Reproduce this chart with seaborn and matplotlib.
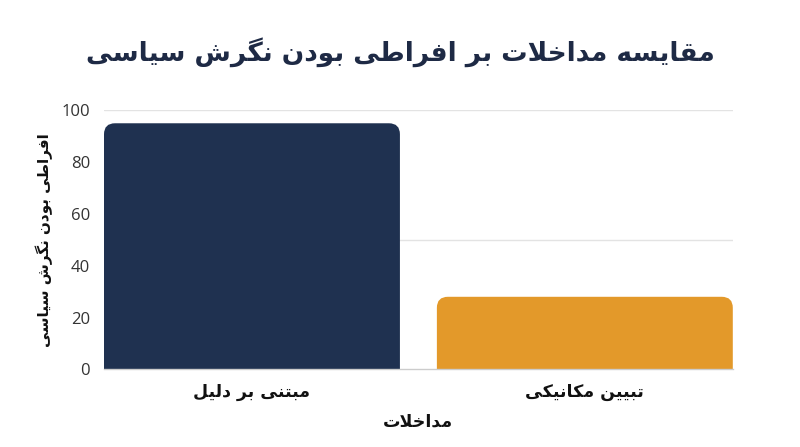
import matplotlib
matplotlib.use("Agg")
import matplotlib.pyplot as plt
import seaborn as sns
import pandas as pd
from matplotlib.path import Path
from matplotlib.patches import PathPatch

# ---- data ----
categories = ["مبتنی بر دلیل", "تبیین مکانیکی"]
values = [95, 28]
bar_colors = ["#1f3150", "#e3992a"]
title_text = "مقایسه مداخلات بر افراطی بودن نگرش سیاسی"
x_label = "مداخلات"
y_label = "افراطی بودن نگرش سیاسی"
y_ticks = [0, 20, 40, 60, 80, 100]
grid_lines = [50, 100]

# ---- minimal Persian shaping (presentation forms + RTL) ----
FORMS = {
    '\u0627': ('\uFE8D', '\uFE8E', None, None),
    '\u0628': ('\uFE8F', '\uFE90', '\uFE91', '\uFE92'),
    '\u062A': ('\uFE95', '\uFE96', '\uFE97', '\uFE98'),
    '\u062E': ('\uFEA5', '\uFEA6', '\uFEA7', '\uFEA8'),
    '\u062F': ('\uFEA9', '\uFEAA', None, None),
    '\u0631': ('\uFEAD', '\uFEAE', None, None),
    '\u0633': ('\uFEB1', '\uFEB2', '\uFEB3', '\uFEB4'),
    '\u0634': ('\uFEB5', '\uFEB6', '\uFEB7', '\uFEB8'),
    '\u0637': ('\uFEC1', '\uFEC2', '\uFEC3', '\uFEC4'),
    '\u0641': ('\uFED1', '\uFED2', '\uFED3', '\uFED4'),
    '\u0642': ('\uFED5', '\uFED6', '\uFED7', '\uFED8'),
    '\u0644': ('\uFEDD', '\uFEDE', '\uFEDF', '\uFEE0'),
    '\u0645': ('\uFEE1', '\uFEE2', '\uFEE3', '\uFEE4'),
    '\u0646': ('\uFEE5', '\uFEE6', '\uFEE7', '\uFEE8'),
    '\u0647': ('\uFEE9', '\uFEEA', '\uFEEB', '\uFEEC'),
    '\u0648': ('\uFEED', '\uFEEE', None, None),
    '\u06CC': ('\uFBFC', '\uFBFD', '\uFBFE', '\uFBFF'),
    '\u06A9': ('\uFB8E', '\uFB8F', '\uFB90', '\uFB91'),
    '\u06AF': ('\uFB92', '\uFB93', '\uFB94', '\uFB95'),
}


def fa(text):
    chars = list(text)
    n = len(chars)

    def dual(c):
        f = FORMS.get(c)
        return f is not None and f[2] is not None

    out = []
    i = 0
    while i < n:
        c = chars[i]
        prev = chars[i - 1] if i > 0 else None
        nxt = chars[i + 1] if i + 1 < n else None
        if c not in FORMS:
            out.append(c)
            i += 1
            continue
        jp = prev is not None and dual(prev)
        if c == '\u0644' and nxt == '\u0627':
            out.append('\uFEFC' if jp else '\uFEFB')
            i += 2
            continue
        jn = dual(c) and nxt is not None and nxt in FORMS
        iso, fin, ini, med = FORMS[c]
        if jp and jn:
            g = med
        elif jp:
            g = fin
        elif jn:
            g = ini
        else:
            g = iso
        out.append(g)
        i += 1
    return ''.join(reversed(out))


sns.set_theme(style="white")
plt.rcParams['font.family'] = ['DejaVu Sans']

FA_FONT = ['DejaVu Sans']
NUM_FONT = ['Open Sans', 'DejaVu Sans']

fig = plt.figure(figsize=(8, 4.47), dpi=100)
ax = fig.add_axes([0.13, 0.1738, 0.786, 0.5794])

df = pd.DataFrame({"cat": categories, "val": values})
sns.barplot(data=df, x="cat", y="val", hue="cat", palette=bar_colors,
            width=0.889, legend=False, ax=ax, saturation=1)

ax.set_xlim(-0.4445, 1.4445)
ax.set_ylim(0, 100)

for g in grid_lines:
    ax.axhline(g, color="#e3e3e3", lw=1, zorder=0)

ax.set_yticks(y_ticks)
ax.set_yticklabels([str(t) for t in y_ticks], family=NUM_FONT, fontsize=12, color="#333333")
ax.set_xticks(range(len(categories)))
ax.set_xticklabels([fa(c) for c in categories], family=FA_FONT, fontsize=12.5,
                   fontweight="bold", color="#111111")
ax.tick_params(axis='both', length=0)
ax.tick_params(axis='y', pad=10)
ax.tick_params(axis='x', pad=10)

ax.set_xlabel(fa(x_label), family=FA_FONT, fontsize=12.5, fontweight="bold", color="#111111", labelpad=8)
ax.set_ylabel(fa(y_label), family=FA_FONT, fontsize=11, fontweight="bold", color="#111111", labelpad=6)

for s in ["top", "right", "left"]:
    ax.spines[s].set_visible(False)
ax.spines["bottom"].set_color("#cccccc")
ax.spines["bottom"].set_linewidth(1)

fig.suptitle(fa(title_text), family=FA_FONT, fontsize=19, fontweight="bold",
             color="#1e2a45", y=0.884, va="center")

# ---- rounded top corners ----
fig.canvas.draw()
o = ax.transData.transform((0, 0))
px_x = ax.transData.transform((1, 0))[0] - o[0]
px_y = ax.transData.transform((0, 1))[1] - o[1]
r_px = 11
rx, ry = r_px / px_x, r_px / px_y
for p in list(ax.patches):
    x0, y0, w, h = p.get_x(), p.get_y(), p.get_width(), p.get_height()
    if h <= 0:
        continue
    verts = [(x0, y0), (x0, y0 + h - ry), (x0, y0 + h), (x0 + rx, y0 + h),
             (x0 + w - rx, y0 + h), (x0 + w, y0 + h), (x0 + w, y0 + h - ry),
             (x0 + w, y0), (x0, y0)]
    codes = [Path.MOVETO, Path.LINETO, Path.CURVE3, Path.CURVE3, Path.LINETO,
             Path.CURVE3, Path.CURVE3, Path.LINETO, Path.CLOSEPOLY]
    pp = PathPatch(Path(verts, codes), facecolor=p.get_facecolor(), edgecolor="none", zorder=2)
    p.remove()
    ax.add_patch(pp)

fig.savefig("out.png", dpi=100)
